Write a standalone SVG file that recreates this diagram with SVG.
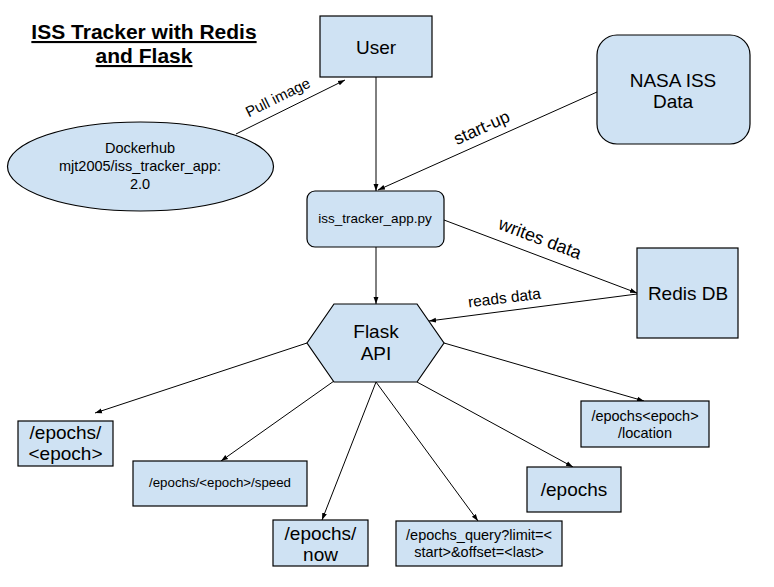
<svg xmlns="http://www.w3.org/2000/svg" width="774" height="587" viewBox="0 0 774 587">
<defs>
<style>
.n{fill:#cfe2f3;stroke:#000;stroke-width:1.2}
.t{font-family:"Liberation Sans",Arial,sans-serif;fill:#000;text-anchor:middle}
.c{stroke:#000;stroke-width:1;fill:none;marker-end:url(#a)}
</style>
<marker id="a" viewBox="0 0 10 10" refX="10" refY="5" markerWidth="7" markerHeight="7" markerUnits="userSpaceOnUse" orient="auto">
<path d="M0,1.5 L10,5 L0,8.5 z" fill="#000"/>
</marker>
</defs>
<rect width="774" height="587" fill="#fff"/>
<g id="title">
<text class="t" x="144" y="39" font-size="21" font-weight="bold" text-decoration="underline">ISS Tracker with Redis</text>
<text class="t" x="144" y="63" font-size="21" font-weight="bold" text-decoration="underline">and Flask</text>
</g>
<g id="connectors">
<line class="c" x1="376" y1="77" x2="376" y2="191"/>
<line class="c" x1="236" y1="134" x2="345" y2="80"/>
<line class="c" x1="597" y1="92" x2="378" y2="190"/>
<line class="c" x1="444" y1="220" x2="637" y2="293"/>
<line class="c" x1="637" y1="294" x2="429" y2="321"/>
<line class="c" x1="376" y1="246" x2="376" y2="304"/>
<line class="c" x1="307" y1="343" x2="95" y2="413"/>
<line class="c" x1="334" y1="381" x2="221" y2="461"/>
<line class="c" x1="376" y1="382" x2="322" y2="520"/>
<line class="c" x1="376" y1="382" x2="478" y2="521"/>
<line class="c" x1="417" y1="382" x2="573" y2="467"/>
<line class="c" x1="444" y1="343" x2="644" y2="401"/>
<text class="t" font-size="15" transform="translate(280,102) rotate(-26.4)">Pull image</text>
<text class="t" font-size="17.5" transform="translate(484,133) rotate(-24.3)">start-up</text>
<text class="t" font-size="18" transform="translate(538,244) rotate(20.8)">writes data</text>
<text class="t" font-size="15.5" transform="translate(505,303) rotate(-7)">reads data</text>
</g>
<g id="user">
<rect class="n" x="320" y="16" width="112" height="61"/>
<text class="t" x="376" y="54" font-size="19">User</text>
</g>
<g id="nasa">
<rect class="n" x="597" y="35" width="153" height="109" rx="20"/>
<text class="t" x="673" y="87" font-size="19">NASA ISS</text>
<text class="t" x="673" y="108" font-size="19">Data</text>
</g>
<g id="dockerhub">
<ellipse class="n" cx="140.5" cy="166.5" rx="133" ry="44.5"/>
<text class="t" x="140" y="153" font-size="14.5">Dockerhub</text>
<text class="t" x="140" y="171" font-size="14.5">mjt2005/iss_tracker_app:</text>
<text class="t" x="140" y="189" font-size="14.5">2.0</text>
</g>
<g id="app">
<rect class="n" x="307" y="191" width="137" height="56" rx="8"/>
<text class="t" x="375" y="223" font-size="13.5">iss_tracker_app.py</text>
</g>
<g id="redis">
<rect class="n" x="637" y="248" width="101" height="90"/>
<text class="t" x="688" y="300" font-size="19">Redis DB</text>
</g>
<g id="flask">
<polygon class="n" points="307,343 334,304 417,304 444,343 417,382 334,382"/>
<text class="t" x="376" y="338" font-size="19">Flask</text>
<text class="t" x="376" y="360" font-size="19">API</text>
</g>
<g id="epoch">
<rect class="n" x="18" y="421" width="95" height="45"/>
<text class="t" x="65.5" y="439" font-size="19">/epochs/</text>
<text class="t" x="65.5" y="460" font-size="19">&lt;epoch&gt;</text>
</g>
<g id="speed">
<rect class="n" x="133" y="461" width="174" height="45"/>
<text class="t" x="220" y="487" font-size="13.3">/epochs/&lt;epoch&gt;/speed</text>
</g>
<g id="now">
<rect class="n" x="273" y="520" width="95" height="46"/>
<text class="t" x="320.5" y="540" font-size="19">/epochs/</text>
<text class="t" x="320.5" y="561" font-size="19">now</text>
</g>
<g id="query">
<rect class="n" x="396" y="521" width="166" height="45"/>
<text class="t" x="479" y="540" font-size="14.5">/epochs_query?limit=&lt;</text>
<text class="t" x="479" y="557" font-size="14.5">start&gt;&amp;offset=&lt;last&gt;</text>
</g>
<g id="epochs">
<rect class="n" x="527" y="467" width="94" height="45"/>
<text class="t" x="574" y="496" font-size="19">/epochs</text>
</g>
<g id="location">
<rect class="n" x="581" y="401" width="128" height="46"/>
<text class="t" x="645" y="421" font-size="14.5">/epochs&lt;epoch&gt;</text>
<text class="t" x="645" y="438" font-size="14.5">/location</text>
</g>
</svg>
